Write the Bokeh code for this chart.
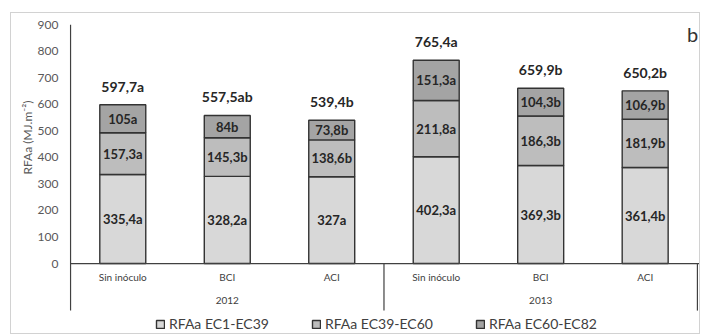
from bokeh.core.properties import value
from bokeh.embed import file_html
from bokeh.models import (ColumnDataSource, FixedTicker, Label, Legend,
                          LegendItem, Range1d, Title)
from bokeh.plotting import figure
from bokeh.resources import INLINE

# --- data -------------------------------------------------------------
years = ["2012", "2013"]
treatments = ["Sin inóculo", "BCI", "ACI"]

ec1_39 = [335.4, 328.2, 327.0, 402.3, 369.3, 361.4]
ec1_39_letters = ["a", "a", "a", "a", "b", "b"]
ec39_60 = [157.3, 145.3, 138.6, 211.8, 186.3, 181.9]
ec39_60_letters = ["a", "b", "b", "a", "b", "b"]
ec60_82 = [105.0, 84.0, 73.8, 151.3, 104.3, 106.9]
ec60_82_letters = ["a", "b", "b", "a", "b", "b"]
total_letters = ["a", "ab", "b", "a", "b", "b"]

series_names = ["RFAa EC1-EC39", "RFAa EC39-EC60", "RFAa EC60-EC82"]
y_ticks = [0, 100, 200, 300, 400, 500, 600, 700, 800, 900]

# --- styling ----------------------------------------------------------
FONT = "Lato"
fills = ["#d8d8d8", "#bdbdbd", "#a4a4a4"]
edge = "#333333"
ink = "#262626"
axis_grey = "#404040"

Y_TOP = 900
Y_AXIS_BOTTOM = -177   # lowest point of the category separators
Y_BOTTOM = -267        # leaves room for the legend inside the frame


def fmt(v):
    s = f"{round(v, 1):.1f}"
    if s.endswith(".0"):
        s = s[:-2]
    return s.replace(".", ",")


n = len(years) * len(treatments)
xs = [i + 0.5 for i in range(n)]
totals = [round(a + b + c, 1) for a, b, c in zip(ec1_39, ec39_60, ec60_82)]

src = ColumnDataSource(dict(x=xs, s1=ec1_39, s2=ec39_60, s3=ec60_82))

p = figure(
    width=690, height=322,
    x_range=Range1d(-0.01, 6.02), y_range=Range1d(Y_BOTTOM, Y_TOP),
    output_backend="svg", toolbar_location=None,
    min_border_left=58, min_border_right=2,
    min_border_top=11, min_border_bottom=1,
)
p.styles = {"border": "1px solid #d2d2d2", "margin-left": "10px",
            "margin-top": "12px"}
p.outline_line_color = None
p.xgrid.visible = False
p.ygrid.visible = False
p.xaxis.visible = False

yax = p.yaxis[0]
yax.ticker = FixedTicker(ticks=y_ticks)
yax.axis_line_color = None
yax.major_tick_line_color = None
yax.minor_tick_line_color = None
yax.major_tick_out = 0
yax.major_tick_in = 0
yax.minor_tick_out = 0
yax.minor_tick_in = 0
yax.axis_label_standoff = 0
yax.major_label_standoff = 11
yax.major_label_text_font = FONT
yax.major_label_text_font_size = "12px"
yax.major_label_text_color = "#595959"

p.add_layout(Title(text="RFAa (MJ.m⁻²)", align="right", offset=76,
                   text_font=FONT, text_font_size="12px",
                   text_font_style="normal", text_color="#595959",
                   standoff=0), "left")

# stacked bars
renderers = p.vbar_stack(
    ["s1", "s2", "s3"], x="x", width=0.44, source=src,
    fill_color=fills, line_color=edge, line_width=1.4,
)

# segment labels
seg_x, seg_y, seg_t = [], [], []
for i in range(n):
    bottom = 0.0
    for vals, lets in ((ec1_39, ec1_39_letters),
                       (ec39_60, ec39_60_letters),
                       (ec60_82, ec60_82_letters)):
        v = vals[i]
        seg_x.append(xs[i])
        seg_y.append(bottom + v / 2)
        seg_t.append(fmt(v) + lets[i])
        bottom += v
p.text(x=seg_x, y=seg_y, text=seg_t, text_align="center",
       text_baseline="middle", text_font=value(FONT),
       text_font_style="bold", text_font_size="13px", text_color=ink)

# totals above bars
p.text(x=xs, y=totals, text=[fmt(t) + l for t, l in zip(totals, total_letters)],
       text_align="center", text_baseline="bottom", y_offset=-10,
       text_font=value(FONT), text_font_style="bold",
       text_font_size="14px", text_color=ink)

# value axis line and category axis below the zero line
p.segment(x0=[0], y0=[Y_TOP], x1=[0], y1=[Y_AXIS_BOTTOM],
          line_color=axis_grey, line_width=1.2)
p.segment(x0=[0], y0=[0], x1=[6.02], y1=[0], line_color=axis_grey, line_width=1.2)
p.segment(x0=[3, 6.0], y0=[0, 0], x1=[3, 6.0], y1=[Y_AXIS_BOTTOM, Y_AXIS_BOTTOM],
          line_color=axis_grey, line_width=1.2)

cat_labels = [t for _ in years for t in treatments]
p.text(x=xs, y=[-49] * n, text=cat_labels, text_align="center",
       text_baseline="middle", text_font=value(FONT),
       text_font_size="10px", text_color=axis_grey)
p.text(x=[1.5, 4.5], y=[-139, -139], text=years, text_align="center",
       text_baseline="middle", text_font=value(FONT),
       text_font_size="10px", text_color=axis_grey)

# panel letter
p.add_layout(Label(x=5.9, y=864, text="b", text_align="left",
                   text_baseline="alphabetic", text_font=FONT,
                   text_font_size="20px", text_color="#333333"))

legend = Legend(
    items=[LegendItem(label=name, renderers=[r])
           for name, r in zip(series_names, renderers)],
    orientation="horizontal", location=(86, 2),
    glyph_width=10, glyph_height=10, label_standoff=4, spacing=42,
    padding=2, margin=0, border_line_color=None,
    background_fill_alpha=0,
    label_text_font=FONT, label_text_font_size="14px",
    label_text_color=axis_grey,
)
p.add_layout(legend, "center")

open("out.html", "w").write(file_html(p, INLINE))
